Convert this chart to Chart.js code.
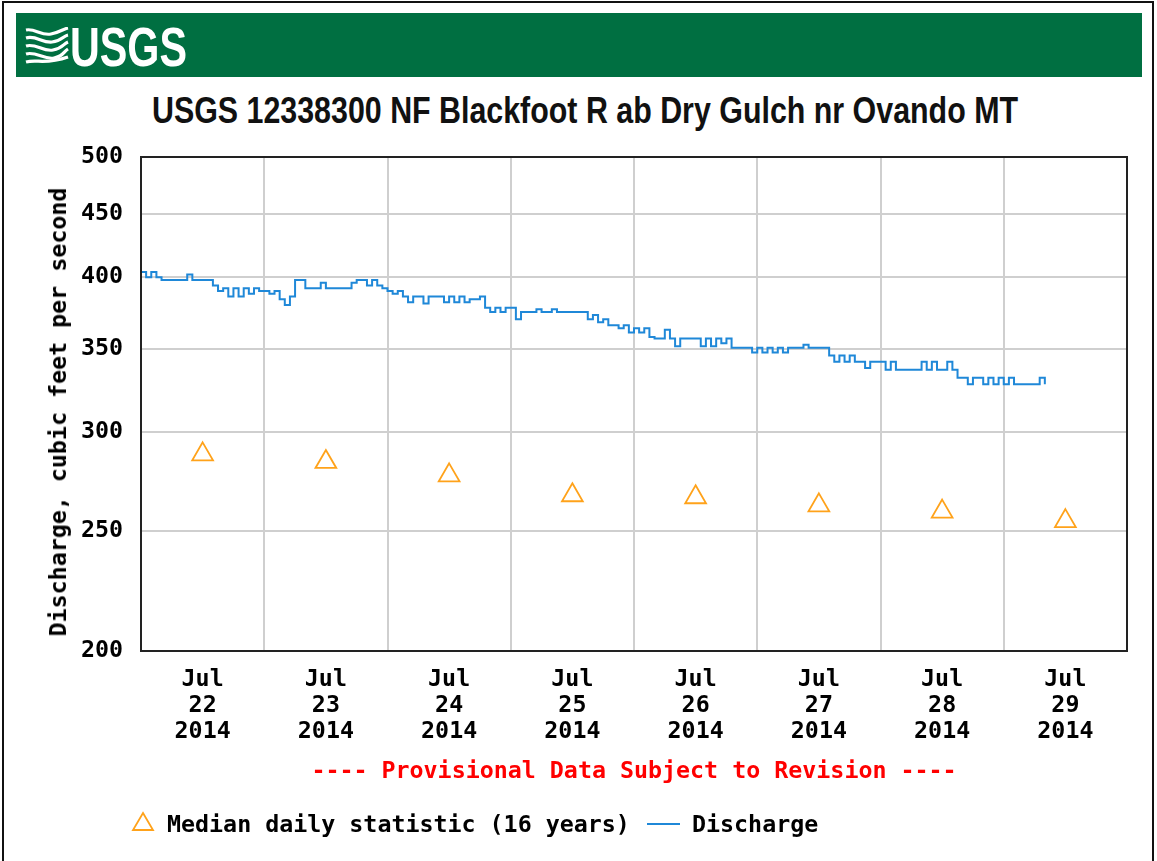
<!DOCTYPE html>
<html><head><meta charset="utf-8">
<script src="https://cdn.jsdelivr.net/npm/chart.js@4"></script>
<style>
html,body{margin:0;padding:0;background:#fff;}
body{width:1157px;height:861px;position:relative;overflow:hidden;}
#frame{position:absolute;left:2px;top:1px;width:1152px;height:900px;border:2px solid #111;box-sizing:border-box;}
#banner{position:absolute;left:16px;top:13px;width:1126px;height:64px;background:#006f41;}
#waves{position:absolute;left:25px;top:27px;}
#usgs{position:absolute;left:70px;top:19px;color:#fff;font:bold 56px/56px "Liberation Sans",Arial,sans-serif;transform-origin:0 0;white-space:nowrap;}
#title{position:absolute;left:152px;top:92px;color:#111;font:bold 37px/37px "Liberation Sans",Arial,sans-serif;transform-origin:0 0;white-space:nowrap;}
#chartbox{position:absolute;left:0;top:0;}
.mono{font-family:"DejaVu Sans Mono",monospace;font-weight:bold;font-size:23.3px;line-height:26px;white-space:nowrap;}
#ytitle{position:absolute;left:58px;top:412px;color:#000;transform:translate(-50%,-50%) rotate(-90deg);}
#prov{position:absolute;left:141px;width:986px;top:757px;text-align:center;color:#ff0000;}
#lg1{position:absolute;left:167px;top:811px;color:#000;}
#lg2{position:absolute;left:692px;top:811px;color:#000;}
#sw{position:absolute;left:647px;top:823px;width:33px;height:2px;background:#1f88d8;}
#tri{position:absolute;left:131px;top:810px;}
</style>
</head><body>
<div id="frame"></div>
<div id="banner"></div>
<svg id="waves" width="44" height="38" viewBox="0 0 44 38">
  <g fill="none" stroke="#fff" stroke-width="3.2">
    <path d="M1 3 C10 1,16 9,26 7 S38 2,43 1"/>
    <path d="M1 11 C11 8,17 16,27 15 S38 9,43 8"/>
    <path d="M1 19 C11 16,18 25,28 23 S38 17,43 15"/>
    <path d="M1 27 C11 24,19 33,29 31 S38 25,43 22"/>
    <path d="M1 35 C12 32,20 38,43 30"/>
  </g>
</svg>
<div id="usgs">USGS</div>
<div id="title">USGS 12338300 NF Blackfoot R ab Dry Gulch nr Ovando MT</div>
<div id="chartbox"><canvas id="c" width="1157" height="861"></canvas></div>
<div id="ytitle" class="mono">Discharge, cubic feet per second</div>
<div id="prov" class="mono">---- Provisional Data Subject to Revision ----</div>
<svg id="tri" width="24" height="23" viewBox="0 0 24 23"><polygon points="12,3 22,20 2,20" fill="none" stroke="#ffa21a" stroke-width="1.8"/></svg>
<div id="lg1" class="mono">Median daily statistic (16 years)</div>
<div id="sw"></div>
<div id="lg2" class="mono">Discharge</div>
<script>
// ---- data ----
const dayLabels = [['Jul','22','2014'],['Jul','23','2014'],['Jul','24','2014'],['Jul','25','2014'],
                   ['Jul','26','2014'],['Jul','27','2014'],['Jul','28','2014'],['Jul','29','2014']];
const yTicks = [200,250,300,350,400,450,500];
// median daily statistic, placed at noon of each day (hours since Jul 22 00:00)
const medianHours = [12,36,60,84,108,132,156,180];
const medianValues = [288,284,277,267,266,262,259,254.5];
// hourly discharge (cfs), one array per day
const jul22 = [404,400,404,400,398,398,398,398,398,402,398,398,398,398,394,390,392,386,392,386,392,388,392,390];
const jul23 = [390,388,390,384,380,386,398,398,392,392,392,396,392,392,392,392,392,396,398,398,394,398,394,392];
const jul24 = [390,388,390,386,382,386,386,381,386,386,386,382,386,382,386,382,384,384,386,378,375,378,375,378];
const jul25 = [378,370,375,375,375,377,375,375,377,375,375,375,375,375,375,370,373,368,370,366,366,364,366,361];
const jul26 = [364,361,364,358,357,357,363,357,352,357,357,357,357,352,357,352,357,354,357,351,351,351,351,348];
const jul27 = [351,348,351,348,351,348,351,351,351,353,351,351,351,351,346,342,346,342,346,342,342,338,342,342];
const jul28 = [342,337,342,337,337,337,337,337,342,337,342,337,337,342,337,332,332,328,332,332,328,332,328,332];
const jul29 = [328,332,328,328,328,328,328,332,328];

const dischargeValues = [].concat(jul22,jul23,jul24,jul25,jul26,jul27,jul28,jul29);
const dischargePoints = dischargeValues.map((v,i)=>({x:i,y:v}));
const medianPoints = medianHours.map((h,i)=>({x:h,y:medianValues[i]}));
const xTickHours = [];
for (let h=0; h<=192; h+=12) xTickHours.push(h);

const monoFont = {family:'"DejaVu Sans Mono", monospace', weight:'bold', size:23.3, lineHeight:1.12};

const framePlugin = {
  id:'frame',
  afterDatasetsDraw(chart){
    const {ctx, chartArea:a} = chart;
    ctx.save();
    ctx.strokeStyle = '#222';
    ctx.lineWidth = 2;
    ctx.strokeRect(a.left, a.top, a.right-a.left, a.bottom-a.top);
    ctx.restore();
  }
};

new Chart(document.getElementById('c'), {
  type:'line',
  data:{datasets:[
    {label:'Median daily statistic (16 years)', data:medianPoints, showLine:false,
     pointStyle:'triangle', pointRadius:12, pointBorderColor:'#ffa21a',
     pointBackgroundColor:'rgba(0,0,0,0)', pointBorderWidth:1.8},
    {label:'Discharge', data:dischargePoints, borderColor:'#1f88d8', borderWidth:2,
     pointRadius:0, stepped:true, fill:false}
  ]},
  options:{
    responsive:false, animation:false, devicePixelRatio:1,
    layout:{padding:{left:0, top:157, right:30, bottom:0}},
    plugins:{legend:{display:false}, tooltip:{enabled:false}, title:{display:false}},
    scales:{
      x:{type:'linear', min:0, max:192,
         afterBuildTicks:s=>{ s.ticks = xTickHours.map(v=>({value:v})); },
         afterFit:s=>{ s.height = 210; },
         grid:{color:c=> (c.tick && c.tick.value % 24 === 0) ? '#cfcfcf' : 'rgba(0,0,0,0)', lineWidth:2, drawTicks:false},
         border:{display:false},
         ticks:{autoSkip:false, maxRotation:0, minRotation:0, padding:16, color:'#000', font:monoFont,
                callback:v=> ((v-12) % 24 === 0) ? dayLabels[(v-12)/24] : ''}},
      y:{type:'logarithmic', min:200, max:500,
         afterBuildTicks:s=>{ s.ticks = yTicks.map(v=>({value:v})); },
         afterFit:s=>{ s.width = 141; },
         grid:{color:'#cfcfcf', lineWidth:2, drawTicks:false},
         border:{display:false},
         ticks:{padding:18, color:'#000', font:monoFont, callback:v=>String(v)},
         title:{display:false}}
    }
  },
  plugins:[framePlugin]
});

// fit header texts to the reference widths
function fitWidth(id, target){
  const el = document.getElementById(id);
  const w = el.getBoundingClientRect().width;
  el.style.transform = 'scaleX(' + (target/w) + ')';
}
fitWidth('usgs', 117);
fitWidth('title', 866);
</script>
</body></html>
